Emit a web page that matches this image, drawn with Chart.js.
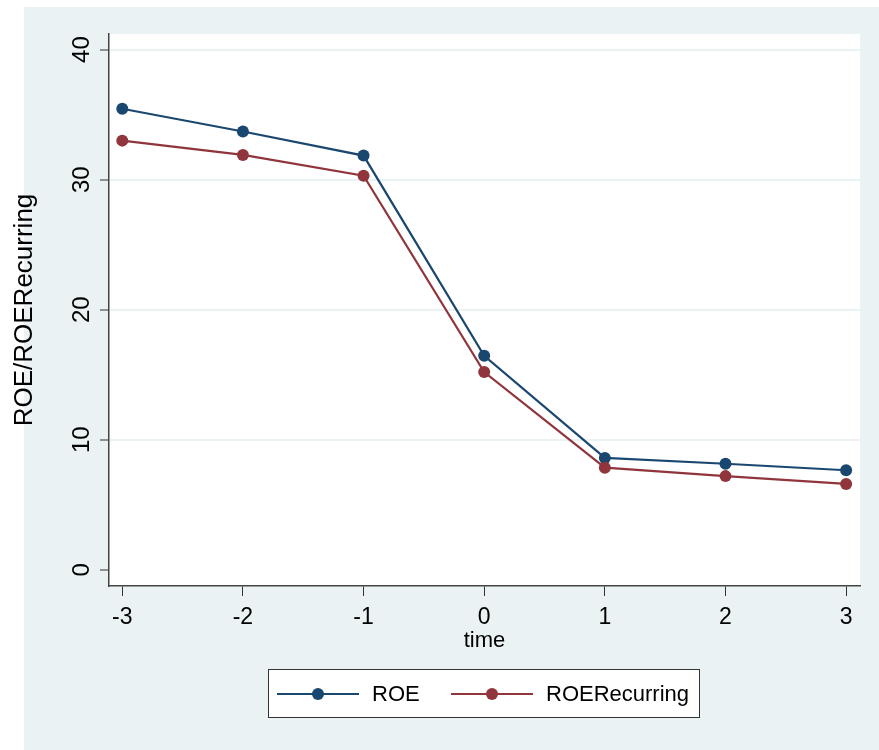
<!DOCTYPE html>
<html>
<head>
<meta charset="utf-8">
<script src="https://cdn.jsdelivr.net/npm/chart.js@4.4.1/dist/chart.umd.min.js"></script>
<style>
  body { margin: 0; background: #fff; }
  #wrap { width: 879px; height: 750px; }
</style>
</head>
<body>
<div id="wrap"><canvas id="roeChart" width="879" height="750"></canvas></div>
<script>
// data
const times = [-3, -2, -1, 0, 1, 2, 3];
const roe = [35.45, 33.7, 31.85, 16.45, 8.6, 8.15, 7.65];
const roeRecurring = [33.0, 31.9, 30.3, 15.2, 7.85, 7.2, 6.6];
const xTicks = [-3, -2, -1, 0, 1, 2, 3];
const yTicks = [0, 10, 20, 30, 40];

const NAVY = '#1a476f';
const MAROON = '#90353b';
const BG = '#eaf2f3';
const FONT = 'Liberation Sans, Arial, sans-serif';

function toPoints(ys) {
    return times.map((t, i) => ({ x: t, y: ys[i] }));
}

// background, white plot region
const backdrop = {
    id: 'backdrop',
    beforeDraw(chart) {
        const ctx = chart.ctx;
        const a = chart.chartArea;
        ctx.save();
        ctx.fillStyle = '#fff';
        ctx.fillRect(0, 0, chart.width, chart.height);
        ctx.fillStyle = BG;
        ctx.fillRect(24, 7, chart.width - 24, chart.height - 7);
        ctx.fillStyle = '#fff';
        ctx.fillRect(a.left, a.top, a.right - a.left, a.bottom - a.top);
        ctx.restore();
    }
};

// vertical y tick labels + boxed legend
const extras = {
    id: 'extras',
    afterDraw(chart) {
        const ctx = chart.ctx;
        const ys = chart.scales.y;
        ctx.save();
        ctx.fillStyle = '#000';
        ctx.font = '24px ' + FONT;
        ctx.textAlign = 'center';
        ctx.textBaseline = 'middle';
        yTicks.forEach(v => {
            ctx.save();
            ctx.translate(82, ys.getPixelForValue(v));
            ctx.rotate(-Math.PI / 2);
            ctx.fillText(String(v), 0, 0);
            ctx.restore();
        });

        // legend box
        ctx.fillStyle = '#fff';
        ctx.fillRect(268, 669, 432, 49);
        ctx.strokeStyle = '#333';
        ctx.lineWidth = 1;
        ctx.strokeRect(268.5, 669.5, 431, 48);
        const starts = [277, 451];
        const ly = 694;
        chart.data.datasets.forEach((ds, i) => {
            const lx = starts[i];
            ctx.strokeStyle = ds.borderColor;
            ctx.lineWidth = 2;
            ctx.beginPath();
            ctx.moveTo(lx, ly);
            ctx.lineTo(lx + 82, ly);
            ctx.stroke();
            ctx.fillStyle = ds.borderColor;
            ctx.beginPath();
            ctx.arc(lx + 41, ly, 6, 0, Math.PI * 2);
            ctx.fill();
            ctx.fillStyle = '#000';
            ctx.font = '22px ' + FONT;
            ctx.textAlign = 'left';
            ctx.textBaseline = 'middle';
            ctx.fillText(ds.label, lx + 95, ly + 1);
        });
        ctx.restore();
    }
};

new Chart(document.getElementById('roeChart'), {
    type: 'line',
    data: {
        datasets: [
            {
                label: 'ROE',
                data: toPoints(roe),
                borderColor: NAVY,
                backgroundColor: NAVY,
                borderWidth: 2.2,
                pointRadius: 6,
                pointBorderWidth: 0,
                pointBackgroundColor: NAVY,
                order: 1
            },
            {
                label: 'ROERecurring',
                data: toPoints(roeRecurring),
                borderColor: MAROON,
                backgroundColor: MAROON,
                borderWidth: 2.2,
                pointRadius: 6,
                pointBorderWidth: 0,
                pointBackgroundColor: MAROON,
                order: 0
            }
        ]
    },
    options: {
        responsive: false,
        animation: false,
        devicePixelRatio: 1,
        layout: { padding: { left: 0, top: 34, right: 19, bottom: 94 } },
        plugins: {
            legend: { display: false },
            tooltip: { enabled: false }
        },
        scales: {
            x: {
                type: 'linear',
                min: -3.11,
                max: 3.115,
                afterBuildTicks: s => { s.ticks = xTicks.map(v => ({ value: v })); },
                afterFit: s => { s.height = 70; },
                ticks: {
                    color: '#000',
                    font: { family: FONT, size: 23 },
                    padding: 8,
                    maxRotation: 0,
                    callback: v => String(v)
                },
                grid: {
                    drawOnChartArea: false,
                    drawTicks: true,
                    tickLength: 10,
                    tickColor: '#333',
                    tickWidth: 1
                },
                border: { color: '#444', width: 1.5 },
                title: {
                    display: true,
                    text: 'time',
                    color: '#000',
                    font: { family: FONT, size: 22, lineHeight: 30 / 22 },
                    padding: 0
                }
            },
            y: {
                min: -1.25,
                max: 41.2,
                afterBuildTicks: s => { s.ticks = yTicks.map(v => ({ value: v })); },
                afterFit: s => { s.width = 109; },
                ticks: { display: false },
                grid: {
                    color: c => (c.tick && c.tick.value === 0) ? 'rgba(0,0,0,0)' : BG,
                    lineWidth: 2,
                    drawTicks: true,
                    tickLength: 9,
                    tickColor: '#333',
                    tickWidth: 1
                },
                border: { color: '#444', width: 1.5 },
                title: {
                    display: true,
                    text: 'ROE/ROERecurring',
                    color: '#000',
                    font: { family: FONT, size: 26, lineHeight: 50 / 26 },
                    padding: 0
                }
            }
        }
    },
    plugins: [backdrop, extras]
});
</script>
</body>
</html>
